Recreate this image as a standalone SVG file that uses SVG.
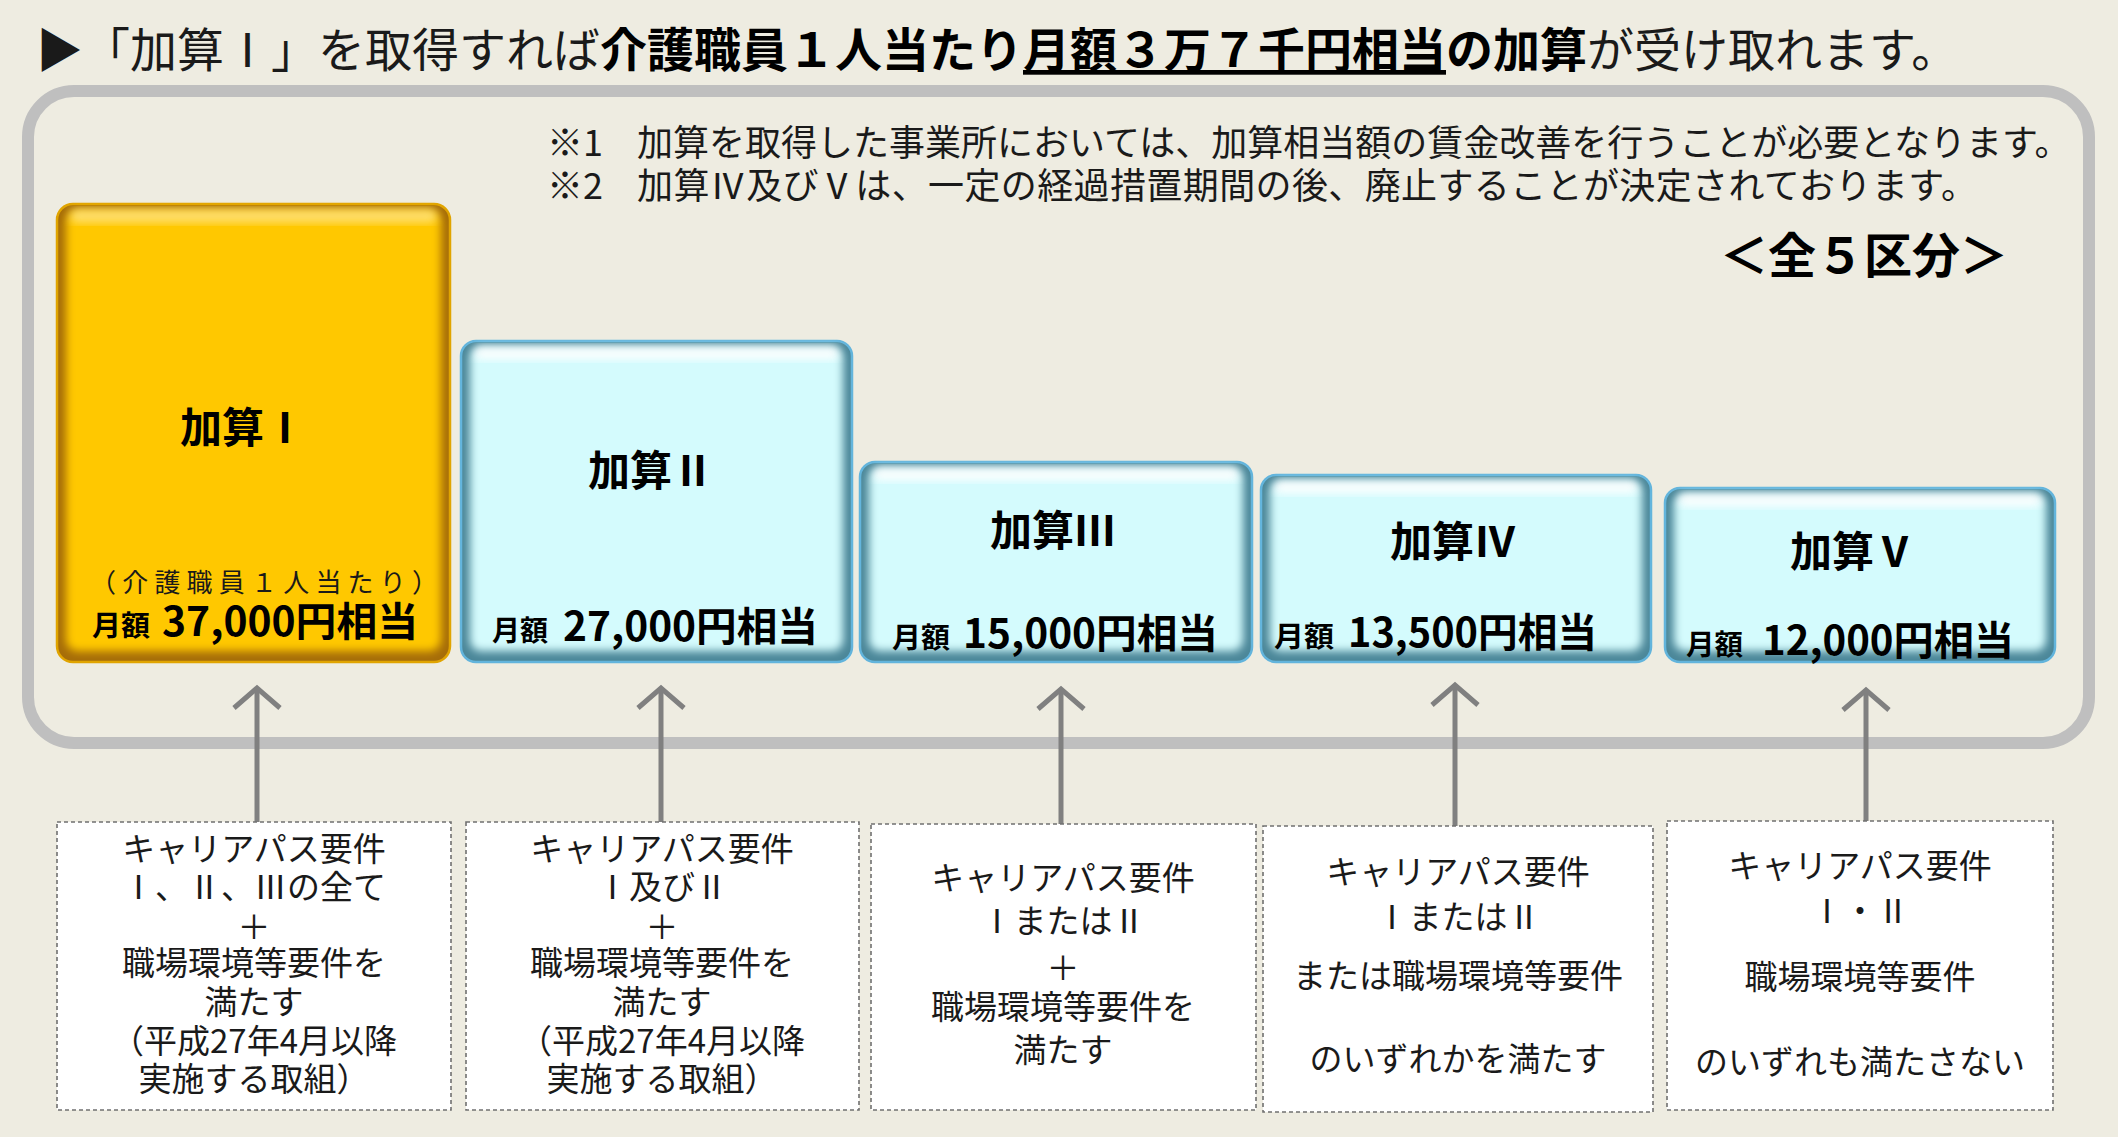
<svg xmlns="http://www.w3.org/2000/svg" width="2118" height="1137" viewBox="0 0 2118 1137">
<style>
text { font-family: "Noto Sans CJK JP", "Noto Sans", sans-serif; fill: #1a1a1a; }
.b { font-weight: bold; fill: #000; }
.mid { text-anchor: middle; }
.ttl { font-size: 42px; font-weight: bold; fill: #000; text-anchor: middle; }
.getsu { font-size: 28px; font-weight: bold; fill: #000; }
.amt { font-size: 40px; font-weight: bold; fill: #000; }
.req { fill: #ffffff; stroke: #707070; stroke-width: 1.6; stroke-dasharray: 4 3; }
.rt { font-size: 33px; text-anchor: middle; fill: #1a1a1a; }
.conn { stroke: #808080; stroke-width: 5; fill: none; marker-end: url(#chev); }
.bbase { fill: #4b8799; stroke: #62b4dc; stroke-width: 2.5; }
.binner { fill: #d4fbfd; filter: url(#soft); }
.bhi { fill: #ffffff; opacity: 0.85; filter: url(#soft); }
.note { font-size: 36px; fill: #1a1a1a; }
</style>
<defs>
<filter id="soft" x="-10%" y="-20%" width="120%" height="140%"><feGaussianBlur stdDeviation="4.5"/></filter>
<marker id="chev" markerUnits="userSpaceOnUse" viewBox="-30 -30 40 60" markerWidth="40" markerHeight="60" refX="0" refY="0" orient="auto" overflow="visible">
<path d="M-20,-23 L0,0 L-20,23" fill="none" stroke="#808080" stroke-width="5"/>
</marker>
</defs>
<rect x="0" y="0" width="2118" height="1137" fill="#eeece1"/>

<!-- title -->
<g id="title">
<text x="36" y="67" font-size="47">▶「加算Ⅰ」を取得すれば<tspan class="b">介護職員１人当たり</tspan><tspan class="b" text-decoration="underline">月額３万７千円相当</tspan><tspan class="b">の加算</tspan>が受け取れます。</text>
</g>

<!-- frame -->
<rect id="frame" x="28" y="91" width="2061" height="652" rx="46" fill="none" stroke="#bfbfbf" stroke-width="12"/>

<g id="notes">
<text class="note" x="547" y="156">※1</text>
<text class="note" x="637" y="156">加算を取得した事業所においては、加算相当額の賃金改善を行うことが必要となります。</text>
<text class="note" x="547" y="199">※2</text>
<text class="note" x="637" y="199" textLength="1340">加算Ⅳ及びⅤは、一定の経過措置期間の後、廃止することが決定されております。</text>
<text class="b mid" x="1864" y="273" font-size="48">＜全５区分＞</text>
</g>

<!-- top nodes -->
<g id="kasan1">
<rect x="57" y="204" width="393" height="458" rx="16" fill="#a66d08" stroke="#e0a400" stroke-width="2.5"/>
<rect x="66" y="210" width="375" height="441" rx="12" fill="#ffc800" filter="url(#soft)"/>
<rect x="70" y="209" width="367" height="14" rx="7" fill="#ffe27a" opacity="0.85" filter="url(#soft)"/>
<text class="ttl" x="243" y="443" font-size="48">加算Ⅰ</text>
<text x="90" y="592" font-size="26" fill="#333" textLength="348">（介護職員１人当たり）</text>
<text class="getsu" x="92" y="636" textLength="58" lengthAdjust="spacingAndGlyphs">月額</text>
<text class="amt" x="162" y="636" textLength="256" lengthAdjust="spacingAndGlyphs">37,000円相当</text>
</g>

<g id="kasan2">
<rect class="bbase" x="461" y="341" width="391" height="321" rx="15"/>
<rect class="binner" x="470" y="347" width="373" height="304" rx="11"/>
<rect class="bhi" x="474" y="346" width="365" height="14" rx="7"/>
<text class="ttl" x="651" y="486">加算Ⅱ</text>
<text class="getsu" x="492" y="641" textLength="56" lengthAdjust="spacingAndGlyphs">月額</text>
<text class="amt" x="563" y="641" textLength="255" lengthAdjust="spacingAndGlyphs">27,000円相当</text>
</g>

<g id="kasan3">
<rect class="bbase" x="860" y="462" width="392" height="200" rx="15"/>
<rect class="binner" x="869" y="468" width="374" height="183" rx="11"/>
<rect class="bhi" x="873" y="467" width="366" height="14" rx="7"/>
<text class="ttl" x="1053" y="546">加算Ⅲ</text>
<text class="getsu" x="892" y="648" textLength="58" lengthAdjust="spacingAndGlyphs">月額</text>
<text class="amt" x="963" y="648" textLength="255" lengthAdjust="spacingAndGlyphs">15,000円相当</text>
</g>

<g id="kasan4">
<rect class="bbase" x="1261" y="475" width="390" height="187" rx="15"/>
<rect class="binner" x="1270" y="481" width="372" height="170" rx="11"/>
<rect class="bhi" x="1274" y="480" width="364" height="14" rx="7"/>
<text class="ttl" x="1453" y="557">加算Ⅳ</text>
<text class="getsu" x="1274" y="647" textLength="60" lengthAdjust="spacingAndGlyphs">月額</text>
<text class="amt" x="1348" y="647" textLength="249" lengthAdjust="spacingAndGlyphs">13,500円相当</text>
</g>

<g id="kasan5">
<rect class="bbase" x="1665" y="488" width="390" height="174" rx="15"/>
<rect class="binner" x="1674" y="494" width="372" height="157" rx="11"/>
<rect class="bhi" x="1678" y="493" width="364" height="14" rx="7"/>
<text class="ttl" x="1853" y="567">加算Ⅴ</text>
<text class="getsu" x="1686" y="655" textLength="57" lengthAdjust="spacingAndGlyphs">月額</text>
<text class="amt" x="1762" y="655" textLength="252" lengthAdjust="spacingAndGlyphs">12,000円相当</text>
</g>

<!-- connectors -->
<g id="connectors">
<line class="conn" x1="257" y1="823" x2="257" y2="688"/>
<line class="conn" x1="661" y1="823" x2="661" y2="688"/>
<line class="conn" x1="1061" y1="825" x2="1061" y2="689"/>
<line class="conn" x1="1455" y1="827" x2="1455" y2="685"/>
<line class="conn" x1="1866" y1="821" x2="1866" y2="690"/>
</g>

<!-- requirement nodes -->
<g id="req1">
<rect class="req" x="57" y="822" width="394" height="288"/>
<text class="rt" x="254" y="861">キャリアパス要件</text>
<text class="rt" x="254" y="899">Ⅰ、Ⅱ、Ⅲの全て</text>
<text class="rt" x="254" y="939">＋</text>
<text class="rt" x="254" y="975">職場環境等要件を</text>
<text class="rt" x="254" y="1014">満たす</text>
<text class="rt" x="254" y="1053">（平成27年4月以降</text>
<text class="rt" x="254" y="1091">実施する取組）</text>
</g>

<g id="req2">
<rect class="req" x="466" y="822" width="393" height="288"/>
<text class="rt" x="662" y="861">キャリアパス要件</text>
<text class="rt" x="662" y="899">Ⅰ及びⅡ</text>
<text class="rt" x="662" y="939">＋</text>
<text class="rt" x="662" y="975">職場環境等要件を</text>
<text class="rt" x="662" y="1014">満たす</text>
<text class="rt" x="662" y="1053">（平成27年4月以降</text>
<text class="rt" x="662" y="1091">実施する取組）</text>
</g>

<g id="req3">
<rect class="req" x="871" y="824" width="385" height="286"/>
<text class="rt" x="1063" y="890">キャリアパス要件</text>
<text class="rt" x="1063" y="933">ⅠまたはⅡ</text>
<text class="rt" x="1063" y="980">＋</text>
<text class="rt" x="1063" y="1019">職場環境等要件を</text>
<text class="rt" x="1063" y="1062">満たす</text>
</g>

<g id="req4">
<rect class="req" x="1263" y="826" width="390" height="286"/>
<text class="rt" x="1458" y="884">キャリアパス要件</text>
<text class="rt" x="1458" y="929">ⅠまたはⅡ</text>
<text class="rt" x="1458" y="988">または職場環境等要件</text>
<text class="rt" x="1458" y="1071">のいずれかを満たす</text>
</g>

<g id="req5">
<rect class="req" x="1667" y="821" width="386" height="289"/>
<text class="rt" x="1860" y="878">キャリアパス要件</text>
<text class="rt" x="1860" y="923">Ⅰ・Ⅱ</text>
<text class="rt" x="1860" y="989">職場環境等要件</text>
<text class="rt" x="1860" y="1074">のいずれも満たさない</text>
</g>
</svg>
